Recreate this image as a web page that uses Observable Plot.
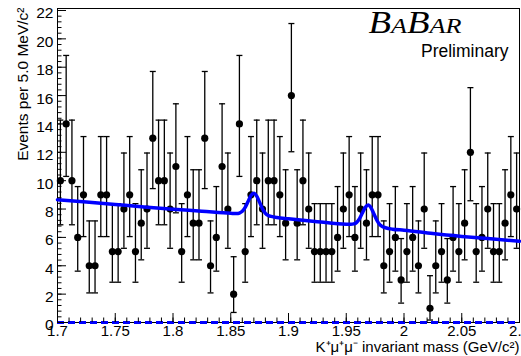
<!DOCTYPE html>
<html>
<head>
<meta charset="utf-8">
<script src="https://cdn.jsdelivr.net/npm/d3@7"></script>
<script src="https://cdn.jsdelivr.net/npm/@observablehq/plot@0.6"></script>
<style>
  html, body { margin: 0; padding: 0; background: #fff; }
  #chart svg { display: block; }
</style>
</head>
<body>
<div id="chart"></div>
<script>
// Histogram: K+ mu+ mu- invariant mass, 5 MeV bins from 1.7 to 2.1 GeV/c^2
const binStart = 1.7;
const binWidth = 0.005;
const counts = [
  10, 14, 10, 6, 9, 4, 4, 9, 9, 5,
  5, 8, 9, 5, 7, 8, 13, 10, 10, 8,
  11, 5, 9, 7, 7, 13, 4, 6, 11, 8,
  2, 14, 5, 9, 10, 8, 10, 10, 9, 7,
  16, 7, 10, 8, 5, 5, 5, 5, 6, 8,
  9, 6, 8, 7, 9, 9, 4, 5, 6, 3,
  5, 6, 4, 8, 1, 4, 5, 3, 6, 5,
  7, 12, 5, 6, 8, 5, 5, 7, 9, 8
];
// 68.3% Poisson (Garwood) interval bounds, indexed by count
const poissonLow  = [0, 0.173, 0.708, 1.367, 2.086, 2.840, 3.620, 4.419, 5.232, 6.057, 6.891, 7.734, 8.585, 9.441, 10.30, 11.17, 12.04];
const poissonHigh = [1.841, 3.300, 4.638, 5.918, 7.163, 8.382, 9.584, 10.77, 11.95, 13.11, 14.27, 15.42, 16.56, 17.70, 18.83, 19.96, 21.08];

// Fit curve
const fitMass = [1.700, 1.725, 1.750, 1.775, 1.800, 1.825, 1.850, 1.855, 1.8575, 1.860, 1.8625, 1.865, 1.8675, 1.870, 1.8725, 1.875, 1.8775, 1.880, 1.8825, 1.885, 1.890, 1.900, 1.925, 1.950, 1.954, 1.9565, 1.959, 1.9615, 1.964, 1.9665, 1.969, 1.9715, 1.974, 1.9765, 1.979, 1.9815, 1.984, 1.990, 2.000, 2.025, 2.050, 2.075, 2.100];
const fitEvents = [8.66, 8.49, 8.32, 8.15, 7.99, 7.85, 7.70, 7.68, 7.72, 7.84, 8.11, 8.53, 8.95, 9.11, 8.91, 8.47, 8.01, 7.70, 7.54, 7.48, 7.40, 7.31, 7.11, 6.93, 6.92, 6.95, 7.06, 7.33, 7.73, 8.12, 8.28, 8.08, 7.65, 7.21, 6.90, 6.75, 6.68, 6.58, 6.51, 6.27, 6.07, 5.90, 5.73];

// Axis ticks
const xTickValues = [1.7, 1.75, 1.8, 1.85, 1.9, 1.95, 2.0, 2.05, 2.1];
const xTickLabels = ["1.7", "1.75", "1.8", "1.85", "1.9", "1.95", "2", "2.05", "2.1"];
const yTickValues = [0, 2, 4, 6, 8, 10, 12, 14, 16, 18, 20, 22];
const yTickLabels = ["0", "2", "4", "6", "8", "10", "12", "14", "16", "18", "20", "22"];
const xMinorTicks = d3.range(0, 41).map(i => 1.7 + i * 0.01);
const yMinorTicks = d3.range(0, 56).map(i => i * 0.4);

const xTitle = "K\u207A\u03BC\u207A\u03BC\u207B invariant mass (GeV/c\u00B2)";
const yTitle = "Events per 5.0 MeV/c\u00B2";

const bins = counts.map((n, i) => ({
  mass: binStart + binWidth * (i + 0.5),
  n,
  lo: poissonLow[n],
  hi: poissonHigh[n]
}));
const fit = fitMass.map((m, i) => ({mass: m, events: fitEvents[i]}));

const capSymbol = {
  draw(context, size) {
    const w = Math.sqrt(size / Math.PI);
    context.moveTo(-w, 0);
    context.lineTo(w, 0);
  }
};

const xFmt = d => xTickLabels[xTickValues.findIndex(v => Math.abs(v - d) < 1e-9)];
const yFmt = d => yTickLabels[yTickValues.indexOf(d)];

const plot = Plot.plot({
  width: 521,
  height: 356,
  marginLeft: 57,
  marginRight: 2,
  marginTop: 8,
  marginBottom: 34,
  style: {
    fontFamily: "'Liberation Sans', Arial, Helvetica, sans-serif",
    fontSize: "15px",
    color: "#000",
    background: "#fff"
  },
  x: {domain: [1.7, 2.1]},
  y: {domain: [0, 22.14]},
  marks: [
    Plot.frame({stroke: "#000", strokeWidth: 1}),
    Plot.ruleY([0], {stroke: "#0000ff", strokeWidth: 3, strokeDasharray: "7,4"}),
    Plot.ruleX(bins, {x: "mass", y1: "lo", y2: "hi", stroke: "#000", strokeWidth: 1.3}),
    Plot.dot(bins, {x: "mass", y: "lo", symbol: capSymbol, r: 3, stroke: "#000", strokeWidth: 1.3}),
    Plot.dot(bins, {x: "mass", y: "hi", symbol: capSymbol, r: 3, stroke: "#000", strokeWidth: 1.3}),
    Plot.dot(bins, {x: "mass", y: "n", r: 3.6, fill: "#000", stroke: "none"}),
    Plot.line(fit, {x: "mass", y: "events", stroke: "#0000ff", strokeWidth: 3.5, curve: "monotone-x"}),
    // x axis ticks (pointing inward) and labels
    Plot.axisX({ticks: xMinorTicks, tickSize: -4.5, tickFormat: () => "", label: null, stroke: "#000"}),
    Plot.axisX({ticks: xTickValues, tickSize: -9, tickFormat: () => "", label: null, stroke: "#000"}),
    Plot.axisX({ticks: xTickValues, tickSize: 0, tickPadding: 3, tickFormat: xFmt, label: null, fontSize: 15, fill: "#000"}),
    // y axis ticks and labels
    Plot.axisY({ticks: yMinorTicks, tickSize: -4.5, tickFormat: () => "", label: null, stroke: "#000"}),
    Plot.axisY({ticks: yTickValues, tickSize: -9, tickFormat: () => "", label: null, stroke: "#000"}),
    Plot.axisY({ticks: yTickValues, tickSize: 0, tickPadding: 4, dy: 3, tickFormat: yFmt, label: null, fontSize: 15.5, fill: "#000"}),
    // axis titles
    Plot.text([yTitle], {frameAnchor: "top-left", rotate: -90, textAnchor: "end", lineAnchor: "bottom", dx: -30, dy: -1, fontSize: 15.5, fill: "#000"}),
    Plot.text([xTitle], {frameAnchor: "bottom-right", textAnchor: "end", lineAnchor: "bottom", dx: 0, dy: 29, fontSize: 15, fill: "#000"}),
    Plot.text(["Preliminary"], {frameAnchor: "top-right", textAnchor: "end", lineAnchor: "bottom", dx: -11, dy: 48, fontSize: 17.5, fill: "#000"})
  ]
});

// BaBar logo (small-caps italic serif)
const logo = d3.select(plot).append("text")
  .attr("x", 415)
  .attr("y", 33)
  .attr("font-family", "'Liberation Serif', 'Times New Roman', serif")
  .attr("font-style", "italic")
  .attr("fill", "#000");
[["B", 31], ["A", 22], ["B", 31], ["A", 22], ["R", 22]].forEach(([t, s]) => {
  logo.append("tspan").attr("font-size", s).text(t);
});
logo.attr("textLength", 93).attr("lengthAdjust", "spacingAndGlyphs");

document.getElementById("chart").appendChild(plot);
</script>
</body>
</html>
